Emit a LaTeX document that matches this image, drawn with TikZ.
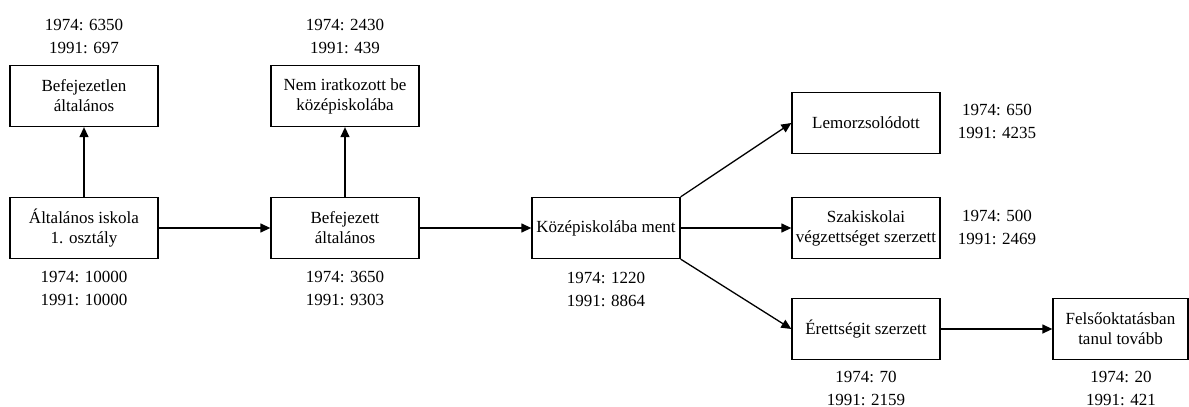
\documentclass[tikz,border=0pt]{standalone}
\usepackage{fontspec}
\setmainfont{Liberation Serif}
\usetikzlibrary{arrows.meta}

\tikzset{
    doboz/.style={draw, line width=0.65pt, minimum width=74pt, minimum height=30.5pt,
        align=center, inner sep=1pt, font=\fontsize{8.5}{10}\selectfont},
    szam/.style={align=center, inner sep=0pt, font=\fontsize{8.5}{11.5}\selectfont},
    nyil/.style={line width=0.65pt, -{Triangle[length=5pt,width=4.5pt]}},
}

\begin{document}
\begin{tikzpicture}[x=0.5pt, y=-0.5pt]
    \useasboundingbox (0,0) rectangle (1189,407);

    % Dobozok
    \node[doboz] (altisk) at (84,228) {Általános iskola\\1. osztály};
    \node[doboz] (befejezetlen) at (84,96) {Befejezetlen\\általános};
    \node[doboz] (befejezett) at (345,228) {Befejezett\\általános};
    \node[doboz] (nemirat) at (345,96) {Nem iratkozott be\\középiskolába};
    \node[doboz] (kozep) at (606,228) {Középiskolába ment};
    \node[doboz] (lemorzs) at (866,123) {Lemorzsolódott};
    \node[doboz] (szakisk) at (866,228) {Szakiskolai\\végzettséget szerzett};
    \node[doboz] (erettsegi) at (866,329) {Érettségit szerzett};
    \node[doboz, minimum width=67.5pt] (felso) at (1120.5,329) {Felsőoktatásban\\tanul tovább};

    % Létszámok
    \node[szam] (befejezetlen-sz) at (84,36) {1974: 6350\\1991: 697};
    \node[szam] (nemirat-sz) at (345,36) {1974: 2430\\1991: 439};
    \node[szam] (altisk-sz) at (84,288) {1974: 10000\\1991: 10000};
    \node[szam] (befejezett-sz) at (345,288) {1974: 3650\\1991: 9303};
    \node[szam] (kozep-sz) at (606,289) {1974: 1220\\1991: 8864};
    \node[szam] (lemorzs-sz) at (997,121) {1974: 650\\1991: 4235};
    \node[szam] (szakisk-sz) at (997,227) {1974: 500\\1991: 2469};
    \node[szam] (erettsegi-sz) at (866,388) {1974: 70\\1991: 2159};
    \node[szam] (felso-sz) at (1121,388) {1974: 20\\1991: 421};

    % Nyilak
    \draw[nyil] (altisk) -- (befejezetlen);
    \draw[nyil] (altisk) -- (befejezett);
    \draw[nyil] (befejezett) -- (nemirat);
    \draw[nyil] (befejezett) -- (kozep);
    \draw[nyil] (kozep.north east) -- (lemorzs.west);
    \draw[nyil] (kozep) -- (szakisk);
    \draw[nyil] (kozep.south east) -- (erettsegi.west);
    \draw[nyil] (erettsegi) -- (felso);
\end{tikzpicture}
\end{document}
